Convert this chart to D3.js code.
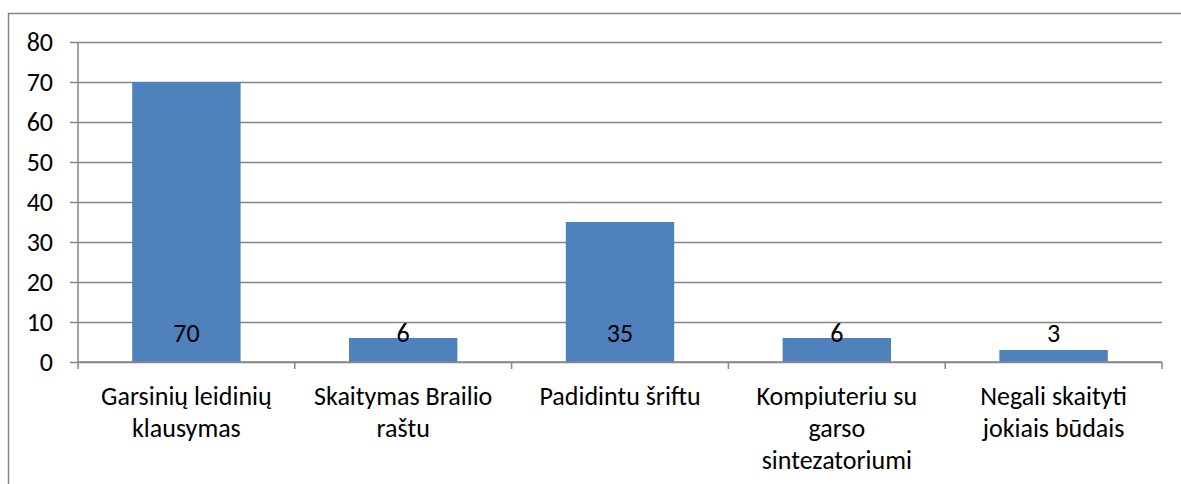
<!DOCTYPE html>
<html lang="lt">
<head>
<meta charset="UTF-8">
<title>Skaitymo būdai</title>
<style>
  html, body { margin: 0; padding: 0; background: #fff; overflow: hidden; }
  svg text { font-family: Carlito, Calibri, Lato, sans-serif; fill: #000; }
</style>
</head>
<body>
<svg id="chart" width="1181" height="484"></svg>
<script src="https://cdn.jsdelivr.net/npm/d3@7"></script>
<script>
// duomenys
const categories = [
  'Garsinių leidinių\nklausymas',
  'Skaitymas Brailio\nraštu',
  'Padidintu šriftu',
  'Kompiuteriu su\ngarso\nsintezatoriumi',
  'Negali skaityti\njokiais būdais'
];
const values = [70, 6, 35, 6, 3];
const yTicks = [0, 10, 20, 30, 40, 50, 60, 70, 80];

const svg = d3.select('#chart');
const gridColor = '#868686';
const numSize = 26;
const catSize = 26;

// chart border (only left and top are visible in the crop)
svg.append('path')
  .attr('d', 'M8.5,484 L8.5,13.5 L1181,13.5')
  .attr('fill', 'none')
  .attr('stroke', gridColor)
  .attr('stroke-width', 1.5);

const m = { left: 78, right: 1162, top: 42, bottom: 362 };

const x = d3.scaleBand()
  .domain(d3.range(categories.length))
  .range([m.left, m.right])
  .paddingInner(0.5)
  .paddingOuter(0.25);

const y = d3.scaleLinear()
  .domain([0, 80])
  .range([m.bottom, m.top]);

// horizontal gridlines + y ticks
const yAxis = d3.axisLeft(y)
  .tickValues(yTicks)
  .tickSize(-(m.right - m.left))
  .tickSizeOuter(0)
  .tickPadding(25)
  .tickFormat(d3.format('d'));

const gy = svg.append('g')
  .attr('transform', `translate(${m.left},0)`)
  .call(yAxis);
gy.select('.domain').remove();
gy.selectAll('.tick line')
  .attr('x1', -8)
  .attr('stroke', gridColor)
  .attr('stroke-width', 1.5);
gy.selectAll('.tick text')
  .attr('font-size', numSize)
  .attr('font-family', null);

// vertical axis line
svg.append('line')
  .attr('x1', m.left).attr('x2', m.left)
  .attr('y1', y(80)).attr('y2', y(0))
  .attr('stroke', gridColor)
  .attr('stroke-width', 1.5);

// bars
svg.append('g')
  .selectAll('rect')
  .data(values)
  .join('rect')
  .attr('x', (d, i) => x(i))
  .attr('y', d => y(d))
  .attr('width', x.bandwidth())
  .attr('height', d => y(0) - y(d))
  .attr('fill', '#4f81bd');

// x axis line and category boundary ticks
const bounds = d3.range(categories.length + 1)
  .map(i => m.left + i * (m.right - m.left) / categories.length);
svg.append('line')
  .attr('x1', m.left).attr('x2', m.right)
  .attr('y1', y(0)).attr('y2', y(0))
  .attr('stroke', gridColor)
  .attr('stroke-width', 1.5);
svg.append('g')
  .selectAll('line')
  .data(bounds)
  .join('line')
  .attr('x1', d => d).attr('x2', d => d)
  .attr('y1', y(0)).attr('y2', y(0) + 7)
  .attr('stroke', gridColor)
  .attr('stroke-width', 1.5);

// data labels (inside base)
svg.append('g')
  .selectAll('text')
  .data(values)
  .join('text')
  .attr('x', (d, i) => x(i) + x.bandwidth() / 2)
  .attr('y', y(0) - 20)
  .attr('text-anchor', 'middle')
  .attr('font-size', numSize)
  .text(d => d);

// category labels
const cat = svg.append('g')
  .selectAll('text')
  .data(categories)
  .join('text')
  .attr('text-anchor', 'middle')
  .attr('font-size', catSize)
  .attr('x', (d, i) => x(i) + x.bandwidth() / 2)
  .attr('y', 405);
cat.selectAll('tspan')
  .data(d => d.split('\n'))
  .join('tspan')
  .attr('x', function () { return this.parentNode.getAttribute('x'); })
  .attr('dy', (d, i) => i === 0 ? 0 : 32)
  .text(d => d);
</script>
</body>
</html>
